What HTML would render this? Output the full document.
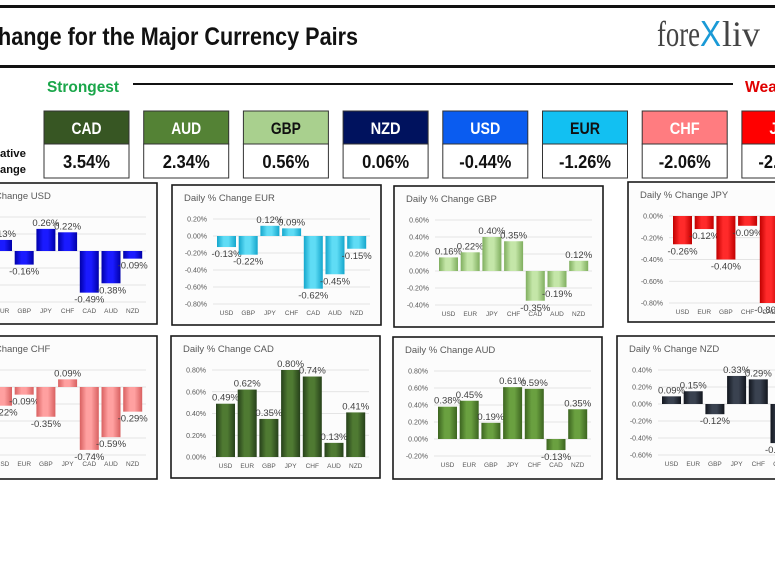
<!DOCTYPE html>
<html><head><meta charset="utf-8">
<style>
html,body{margin:0;padding:0;background:#fff;}
body{width:775px;height:582px;overflow:hidden;position:relative;}
svg{position:absolute;left:0;top:0;}
</style></head>
<body>
<svg id="s" width="775" height="582" viewBox="0 0 775 582" xmlns="http://www.w3.org/2000/svg">
<defs>
</defs>
<rect x="0" y="5" width="775" height="3" fill="#111"/>
<rect x="0" y="65" width="775" height="3" fill="#111"/>
<text x="-2" y="45" font-family="Liberation Sans, sans-serif" font-weight="bold" font-size="25" fill="#111" textLength="360" lengthAdjust="spacingAndGlyphs">hange for the Major Currency Pairs</text>
<text x="657" y="46" font-family="Liberation Serif, serif" font-size="36" fill="#444" textLength="43" lengthAdjust="spacingAndGlyphs">fore</text>
<text x="700" y="46" font-family="Liberation Sans, sans-serif" font-size="36" fill="#1a9ad6" textLength="21" lengthAdjust="spacingAndGlyphs">X</text>
<text x="722" y="46" font-family="Liberation Serif, serif" font-size="36" fill="#444">liv</text>
<text x="47" y="92" font-family="Liberation Sans, sans-serif" font-weight="bold" font-size="16" fill="#1aa64a" textLength="72" lengthAdjust="spacingAndGlyphs">Strongest</text>
<rect x="133" y="83" width="600" height="2" fill="#111"/>
<text x="745" y="92" font-family="Liberation Sans, sans-serif" font-weight="bold" font-size="16" fill="#e00000" textLength="32" lengthAdjust="spacingAndGlyphs">Wea</text>
<text x="0" y="157" font-family="Liberation Sans, sans-serif" font-weight="bold" font-size="11" fill="#111" textLength="26" lengthAdjust="spacingAndGlyphs">ative</text>
<text x="0" y="173" font-family="Liberation Sans, sans-serif" font-weight="bold" font-size="11" fill="#111" textLength="26" lengthAdjust="spacingAndGlyphs">ange</text>
<g id="boxes"></g>
<g id="charts"></g>
</svg>
<script>
var NS="http://www.w3.org/2000/svg";
function el(p,t,a,txt){var e=document.createElementNS(NS,t);for(var k in a)e.setAttribute(k,a[k]);if(txt!=null)e.textContent=txt;p.appendChild(e);return e;}
var boxes=document.getElementById('boxes');
var B=[["CAD","3.54%","#375623","#fff"],["AUD","2.34%","#548235","#fff"],["GBP","0.56%","#a9d08e","#111"],["NZD","0.06%","#00125e","#fff"],["USD","-0.44%","#0a5cf0","#fff"],["EUR","-1.26%","#12c0f2","#111"],["CHF","-2.06%","#ff7c80","#fff"],["JPY","-2.88%","#ff0000","#fff"]];
B.forEach(function(b,i){var x=44+i*99.7;
el(boxes,'rect',{x:x,y:111,width:85,height:33,fill:b[2],stroke:'#333','stroke-width':1});
el(boxes,'rect',{x:x,y:144,width:85,height:34,fill:'#fff',stroke:'#333','stroke-width':1});
el(boxes,'text',{x:x+42.5-15,y:134,'font-family':'Liberation Sans, sans-serif','font-weight':'bold','font-size':17,fill:b[3],textLength:30,lengthAdjust:'spacingAndGlyphs'},b[0]);
var w=b[1].length==5?47:52;
el(boxes,'text',{x:x+42.5-w/2,y:168,'font-family':'Liberation Sans, sans-serif','font-weight':'bold','font-size':18,fill:'#111',textLength:w,lengthAdjust:'spacingAndGlyphs'},b[1]);
});
var defs=document.querySelector('defs');
function grad(id,c1,c2){var g=el(defs,'linearGradient',{id:id,x1:0,y1:0,x2:1,y2:0});
el(g,'stop',{offset:'0',  'stop-color':c2});el(g,'stop',{offset:'0.35','stop-color':c1});el(g,'stop',{offset:'0.6','stop-color':c1});el(g,'stop',{offset:'1','stop-color':c2});}
grad('gUSD','#1a1aff','#0000a8');grad('gEUR','#5fdcf5','#14a6cc');grad('gGBP','#c4e6a8','#7fae5e');grad('gJPY','#ff2a2a','#c00000');
grad('gCHF','#ffa0a0','#d86060');grad('gCAD','#4f7a32','#26401a');grad('gAUD','#6aa040','#3c6420');grad('gNZD','#3a4250','#12161e');
var charts=document.getElementById('charts');
var C=[
["USD",-52,183,141,[0.4,0.2,0,-0.2,-0.4,-0.6],["EUR","GBP","JPY","CHF","CAD","AUD","NZD"],[0.13,-0.16,0.26,0.22,-0.49,-0.38,-0.09]],
["EUR",172,185,140,[0.2,0,-0.2,-0.4,-0.6,-0.8],["USD","GBP","JPY","CHF","CAD","AUD","NZD"],[-0.13,-0.22,0.12,0.09,-0.62,-0.45,-0.15]],
["GBP",394,186,141,[0.6,0.4,0.2,0,-0.2,-0.4],["USD","EUR","JPY","CHF","CAD","AUD","NZD"],[0.16,0.22,0.40,0.35,-0.35,-0.19,0.12]],
["JPY",628,182,140,[0,-0.2,-0.4,-0.6,-0.8],["USD","EUR","GBP","CHF","CAD","AUD","NZD"],[-0.26,-0.12,-0.40,-0.09,-0.80,-0.5,-0.3]],
["CHF",-52,336,143,[0.2,0,-0.2,-0.4,-0.6,-0.8],["USD","EUR","GBP","JPY","CAD","AUD","NZD"],[-0.22,-0.09,-0.35,0.09,-0.74,-0.59,-0.29]],
["CAD",171,336,142,[0.8,0.6,0.4,0.2,0],["USD","EUR","GBP","JPY","CHF","AUD","NZD"],[0.49,0.62,0.35,0.80,0.74,0.13,0.41]],
["AUD",393,337,142,[0.8,0.6,0.4,0.2,0,-0.2],["USD","EUR","GBP","JPY","CHF","CAD","NZD"],[0.38,0.45,0.19,0.61,0.59,-0.13,0.35]],
["NZD",617,336,143,[0.4,0.2,0,-0.2,-0.4,-0.6],["USD","EUR","GBP","JPY","CHF","CAD","AUD"],[0.09,0.15,-0.12,0.33,0.29,-0.46,-0.3]]
];
C.forEach(function(c){
var L=c[1],T=c[2],H=c[3],tk=c[4];var W=209;
var g=el(charts,'g',{});
el(g,'rect',{x:L,y:T,width:W,height:H,fill:'#fcfcfc',stroke:'#1a1a1a','stroke-width':1.6});
el(g,'text',{x:L+12,y:T+16,'font-family':'Liberation Sans, sans-serif','font-size':9.5,fill:'#595959'},'Daily % Change '+c[0]);
var yt=T+34,yb=T+(tk.length==5?121:119);var n=tk.length-1;var st=(yb-yt)/n;
var vmax=tk[0],vmin=tk[n];
function Y(v){return yt+(vmax-v)/(vmax-vmin)*(yb-yt);}
tk.forEach(function(v,i){var y=yt+i*st;
el(g,'line',{x1:L+41,x2:L+198,y1:y,y2:y,stroke:'#dcdcdc','stroke-width':0.8});
el(g,'text',{x:L+35,y:y+2.5,'text-anchor':'end','font-family':'Liberation Sans, sans-serif','font-size':7,fill:'#595959'},v.toFixed(2)+'%');
});
c[5].forEach(function(cat,i){var cx=L+54.5+i*21.7;var v=c[6][i];
var y0=Y(0),y1=Y(v);var top=Math.min(y0,y1),h=Math.max(Math.abs(y1-y0),1);
el(g,'rect',{x:cx-9.5,y:top,width:19,height:h,fill:'url(#g'+c[0]+')'});
el(g,'text',{x:cx,y:yb+11,'text-anchor':'middle','font-family':'Liberation Sans, sans-serif','font-size':6.5,fill:'#595959'},cat);
var ly=v>=0?y1-3:y1+10;
el(g,'text',{x:cx,y:ly,'text-anchor':'middle','font-family':'Liberation Sans, sans-serif','font-size':9.5,fill:'#404040'},v.toFixed(2)+'%');
});
});
</script>
</body></html>
